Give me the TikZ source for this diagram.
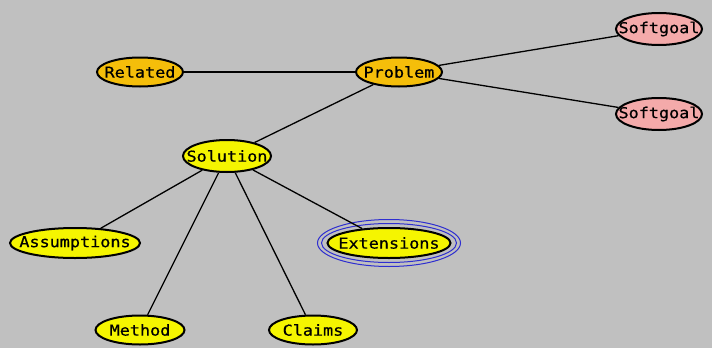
\documentclass[tikz,border=0pt]{standalone}
\usepackage{fontspec}
\newfontfamily\pix[FakeStretch=1.12,FakeBold=0.6]{DejaVu Sans Mono}
\usetikzlibrary{shapes.geometric}
\definecolor{bg}{HTML}{C0C0C0}
\definecolor{orangefill}{HTML}{F5BE0A}
\definecolor{yellowfill}{HTML}{F5F500}
\definecolor{pinkfill}{HTML}{F4AAAA}
\definecolor{selblue}{HTML}{2E2ED0}
\newcommand{\gtext}[1]{\makebox[0pt]{#1}}
\tikzset{
  goal/.style={ellipse, draw=black, line width=2pt, inner sep=0pt,
    font=\pix\fontsize{15}{16}\selectfont, text=black},
  orangenode/.style={goal, fill=orangefill},
  yellownode/.style={goal, fill=yellowfill},
  pinknode/.style={goal, fill=pinkfill},
  edge/.style={draw=black, line width=1.3pt},
  selring/.style={draw=selblue, line width=1pt}
}
\begin{document}
\begin{tikzpicture}[x=1pt,y=-1pt]
\fill[bg] (0,0) rectangle (712,348);
\useasboundingbox (0,0) rectangle (712,348);
\node[orangenode, minimum width=86, minimum height=29] (related) at (140,72) {\gtext{Related}};
\node[orangenode, minimum width=86, minimum height=29] (problem) at (399,72) {\gtext{Problem}};
\node[pinknode, minimum width=86, minimum height=32] (soft1) at (659,29) {\gtext{Softgoal}};
\node[pinknode, minimum width=86, minimum height=32] (soft2) at (659,114) {\gtext{Softgoal}};
\node[yellownode, minimum width=88, minimum height=32] (solution) at (227,156) {\gtext{Solution}};
\node[yellownode, minimum width=130, minimum height=30] (assump) at (75,243) {\gtext{Assumptions}};
\node[yellownode, minimum width=123, minimum height=30] (ext) at (389,243) {\gtext{Extensions}};
\node[yellownode, minimum width=89, minimum height=29] (method) at (140,330) {\gtext{Method}};
\node[yellownode, minimum width=88, minimum height=29] (claims) at (313,330) {\gtext{Claims}};
\draw[selring] (ext.center) ellipse (71.5 and 23.5);
\draw[selring] (ext.center) ellipse (67.5 and 19.5);
\draw[edge] (related) -- (problem);
\draw[edge] (problem) -- (soft1);
\draw[edge] (problem) -- (soft2);
\draw[edge] (problem) -- (solution);
\draw[edge] (solution) -- (assump);
\draw[edge] (solution) -- (method);
\draw[edge] (solution) -- (claims);
\draw[edge] (solution) -- (ext);
\end{tikzpicture}
\end{document}
